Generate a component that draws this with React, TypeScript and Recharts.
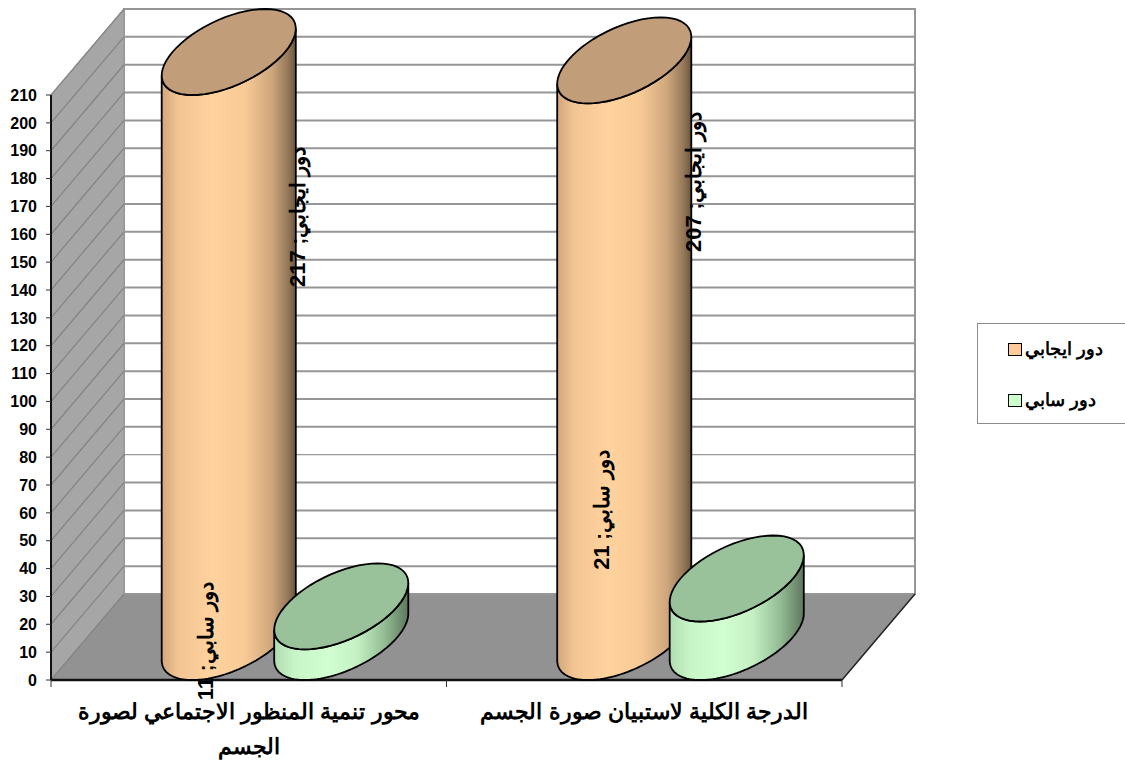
import React from "react";
import { BarChart, Bar, XAxis, YAxis, Legend, LabelList, ReferenceArea } from "recharts";

const categories = [
  "محور تنمية المنظور الاجتماعي لصورة\nالجسم",
  "الدرجة الكلية لاستبيان صورة الجسم",
];
const positiveName = "دور ايجابي";
const passiveName = "دور سابي";
const positiveValues = [217, 207];
const passiveValues = [11, 21];
const yTicks = [
  0, 10, 20, 30, 40, 50, 60, 70, 80, 90, 100, 110, 120, 130, 140, 150, 160, 170,
  180, 190, 200, 210,
];

const data = categories.map((name, i) => ({
  name,
  positive: positiveValues[i],
  passive: passiveValues[i],
}));

const AXIS_MAX = 210;
const DOMAIN_MAX = 240; // room above the axis so the tall cylinders are not clipped
const DEPTH_X = 73;
const DEPTH_Y = 86;
const THIN_GRID_VALUE = 50; // this back wall line is thinner in the picture
const FONT = '"Liberation Sans", Arial, sans-serif';

// the picture's label spots do not follow the bars, so they are nudged per bar
const positiveLabelSpots = [
  { dx: 161, cy: 217 },
  { dx: 161, cy: 182 },
];
const passiveLabelSpots = [
  { dx: -44, cy: 641 },
  { dx: -43, cy: 510 },
];

const Frame = (props: any) => {
  const { x, y, width, height } = props;
  const bottom = y + height;
  const right = x + width;
  const yOf = (v: number) => bottom - (v / AXIS_MAX) * height;
  const bandW = width / categories.length;
  return (
    <g>
      <polygon
        points={`${x + DEPTH_X},${y - DEPTH_Y} ${right + DEPTH_X},${y - DEPTH_Y} ${right + DEPTH_X},${bottom - DEPTH_Y} ${x + DEPTH_X},${bottom - DEPTH_Y}`}
        fill="#fff"
        stroke="#969696"
        strokeWidth={2}
      />
      <polygon
        points={`${x},${y} ${x + DEPTH_X},${y - DEPTH_Y} ${x + DEPTH_X},${bottom - DEPTH_Y} ${x},${bottom}`}
        fill="#a6a6a6"
        stroke="#969696"
      />
      <polygon
        points={`${x},${bottom} ${x + DEPTH_X},${bottom - DEPTH_Y} ${right + DEPTH_X},${bottom - DEPTH_Y} ${right},${bottom}`}
        fill="#929292"
      />
      {yTicks.map((v) => (
        <g key={v}>
          <line
            x1={x + DEPTH_X}
            x2={right + DEPTH_X}
            y1={yOf(v) - DEPTH_Y}
            y2={yOf(v) - DEPTH_Y}
            stroke={v === THIN_GRID_VALUE ? "#808080" : "#969696"}
            strokeWidth={v === THIN_GRID_VALUE ? 1 : 2}
          />
          <line
            x1={x}
            x2={x + DEPTH_X}
            y1={yOf(v)}
            y2={yOf(v) - DEPTH_Y}
            stroke="#858585"
            strokeWidth={1.3}
          />
        </g>
      ))}
      <line x1={x} x2={x} y1={y} y2={bottom} stroke="#111" strokeWidth={2} />
      <line x1={x} x2={right} y1={bottom} y2={bottom} stroke="#111" strokeWidth={2.5} />
      <line
        x1={right}
        x2={right + DEPTH_X}
        y1={bottom}
        y2={bottom - DEPTH_Y}
        stroke="#222"
        strokeWidth={1.5}
      />
      {[0, 1, 2].map((i) => (
        <line
          key={i}
          x1={x + i * bandW}
          x2={x + i * bandW}
          y1={bottom}
          y2={bottom + 7}
          stroke="#333"
          strokeWidth={1}
        />
      ))}
    </g>
  );
};

const ellipsePoint = (cx: number, cy: number, w: number, t: number) => [
  cx + (w / 2) * Math.cos(t) + (DEPTH_X / 2) * Math.sin(t),
  cy - (DEPTH_Y / 2) * Math.sin(t),
];

const ellipseArc = (cx: number, cy: number, w: number, from: number, to: number) => {
  const out: string[] = [];
  for (let i = 0; i <= 60; i++) {
    const [px, py] = ellipsePoint(cx, cy, w, from + ((to - from) * i) / 60);
    out.push(`${px.toFixed(2)} ${py.toFixed(2)}`);
  }
  return out;
};

const Cylinder = (props: any) => {
  const { x, y, width, height, value, gradient, topFill } = props;
  const val = Array.isArray(value) ? value[1] - value[0] : value;
  const base = y + height;
  // Values above the axis maximum are capped at it, as in the picture
  const topY = base - (Math.min(val, AXIS_MAX) / val) * height;
  const cx = x + width / 2 + DEPTH_X / 2;
  const cyTop = topY - DEPTH_Y / 2;
  const cyBase = base - DEPTH_Y / 2;

  // right silhouette angle; the left one is half a turn further
  const tr = Math.atan2(DEPTH_X / 2, width / 2);
  const tl = tr + Math.PI;

  const lowerArc = ellipseArc(cx, cyBase, width, tl, tr + 2 * Math.PI);
  const upperBack = ellipseArc(cx, cyTop, width, tr + 2 * Math.PI, tl);
  const body = `M${lowerArc.join(" L")} L${upperBack.join(" L")} Z`;
  const full = `M${ellipseArc(cx, cyTop, width, 0, 2 * Math.PI).join(" L")} Z`;

  return (
    <g>
      <path d={body} fill={`url(#${gradient})`} stroke="#000" strokeWidth={1.8} />
      <path d={full} fill={topFill} stroke="#000" strokeWidth={1.8} />
    </g>
  );
};

const makeLabel = (name: string, spots: { dx: number; cy: number }[]) => (props: any) => {
  const { x, value, index } = props;
  const spot = spots[index];
  const lx = x + spot.dx;
  return (
    <text
      x={lx}
      y={spot.cy}
      transform={`rotate(-90 ${lx} ${spot.cy})`}
      textAnchor="middle"
      dominantBaseline="central"
      direction="rtl"
      fontFamily={FONT}
      fontWeight="bold"
      fill="#000"
    >
      <tspan fontSize={20.5}>{name}; </tspan>
      <tspan fontSize={22}>{value}</tspan>
    </text>
  );
};

const CategoryTick = (props: any) => {
  const { x, y, payload } = props;
  const lines = String(payload.value).split("\n");
  return (
    <text
      x={x}
      y={y}
      textAnchor="middle"
      fontFamily={FONT}
      fontSize={22.2}
      fontWeight="bold"
      fill="#000"
    >
      {lines.map((line, i) => (
        <tspan key={i} x={x} y={y + 31 + i * 35}>
          {line}
        </tspan>
      ))}
    </text>
  );
};

const LegendBox = () => (
  <div
    style={{
      boxSizing: "border-box",
      width: 160,
      height: 101,
      border: "1px solid #8c8c8c",
      background: "#fff",
      fontFamily: FONT,
      fontSize: 18,
      lineHeight: "20px",
      fontWeight: "bold",
      position: "relative",
    }}
  >
    {[
      { name: positiveName, color: "#ffcc99", top: 15, left: 30 },
      { name: passiveName, color: "#ccffcc", top: 66, left: 30 },
    ].map((item) => (
      <div
        key={item.name}
        style={{
          position: "absolute",
          top: item.top,
          left: item.left,
          display: "flex",
          alignItems: "center",
          gap: 3,
          whiteSpace: "nowrap",
        }}
      >
        <span
          style={{
            display: "inline-block",
            boxSizing: "border-box",
            width: 14,
            height: 13,
            background: item.color,
            border: "1.5px solid #000",
          }}
        />
        <span>{item.name}</span>
      </div>
    ))}
  </div>
);

export default function App() {
  return (
    <div style={{ position: "absolute", left: 0, top: 0, background: "#fff" }}>
      <BarChart
        width={1125}
        height={762}
        data={data}
        barSize={112.5}
        barGap={0}
        margin={{ top: 680 - (DOMAIN_MAX * 585) / AXIS_MAX, right: 283, bottom: 0, left: 0 }}
      >
        <defs>
          <linearGradient id="orangeBody" x1="0" y1="0" x2="1" y2="0">
            <stop offset="0" stopColor="#d2a67c" />
            <stop offset="0.12" stopColor="#f2c493" />
            <stop offset="0.38" stopColor="#ffd29e" />
            <stop offset="0.62" stopColor="#f8ca96" />
            <stop offset="0.82" stopColor="#cfa67c" />
            <stop offset="0.94" stopColor="#96795a" />
            <stop offset="1" stopColor="#6b5640" />
          </linearGradient>
          <linearGradient id="greenBody" x1="0" y1="0" x2="1" y2="0">
            <stop offset="0" stopColor="#b0dcb0" />
            <stop offset="0.15" stopColor="#c8f5c8" />
            <stop offset="0.4" stopColor="#d2ffd2" />
            <stop offset="0.62" stopColor="#c4f0c4" />
            <stop offset="0.82" stopColor="#95bd95" />
            <stop offset="1" stopColor="#5e775e" />
          </linearGradient>
        </defs>
        <XAxis
          dataKey="name"
          height={82}
          axisLine={false}
          tickLine={false}
          interval={0}
          tick={<CategoryTick />}
        />
        <YAxis
          width={51}
          domain={[0, DOMAIN_MAX]}
          ticks={yTicks}
          interval={0}
          axisLine={false}
          tickLine={{ stroke: "#333" }}
          tickSize={5}
          tickMargin={9}
          tick={{ fill: "#000", fontFamily: FONT, fontSize: 16, fontWeight: "bold" }}
        />
        <ReferenceArea y1={0} y2={AXIS_MAX} shape={<Frame />} />
        <Legend
          layout="vertical"
          align="center"
          verticalAlign="middle"
          content={<LegendBox />}
          wrapperStyle={{ position: "absolute", left: 977, top: 323, width: 160, height: 101 }}
        />
        <Bar
          dataKey="positive"
          name={positiveName}
          fill="#ffcc99"
          isAnimationActive={false}
          shape={<Cylinder gradient="orangeBody" topFill="#c19e79" />}
        >
          <LabelList dataKey="positive" content={makeLabel(positiveName, positiveLabelSpots)} />
        </Bar>
        <Bar
          dataKey="passive"
          name={passiveName}
          fill="#ccffcc"
          isAnimationActive={false}
          shape={<Cylinder gradient="greenBody" topFill="#9ac29a" />}
        >
          <LabelList dataKey="passive" content={makeLabel(passiveName, passiveLabelSpots)} />
        </Bar>
      </BarChart>
    </div>
  );
}
